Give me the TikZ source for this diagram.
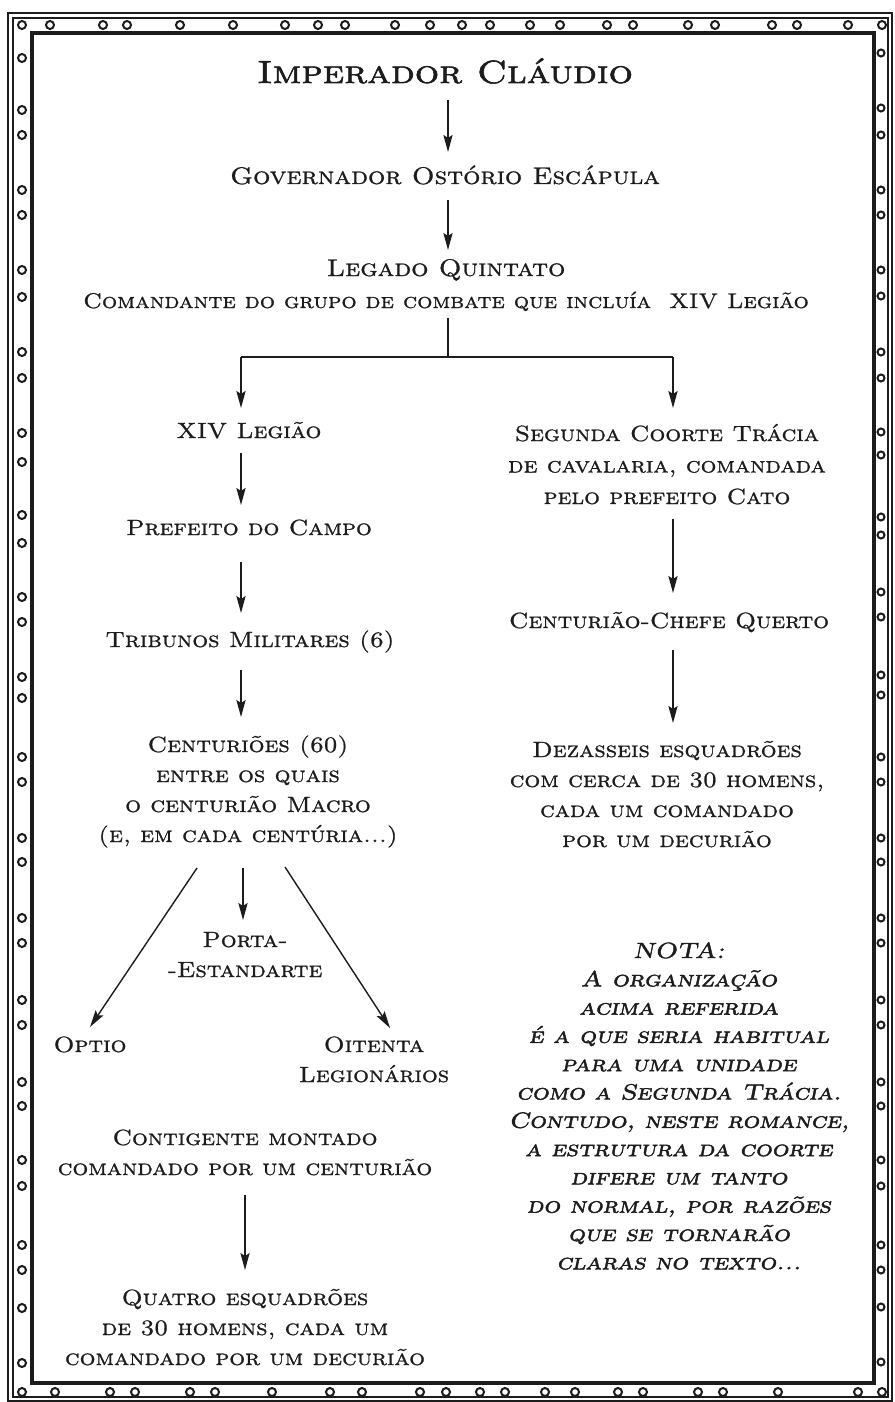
\documentclass[tikz,border=0pt]{standalone}
\usepackage{fontspec}
\usetikzlibrary{arrows.meta,calc}
\newfontfamily\scf{lmromancaps10-regular.otf}[FakeStretch=1.13,FakeBold=1.0]
\newfontface\titlef{lmromancaps10-regular.otf}[FakeStretch=1.2,FakeBold=1.8]
\newfontface\notaf{lmromancaps10-oblique.otf}[FakeStretch=1.19,FakeBold=2.0]
\definecolor{ink}{HTML}{1C1C1C}
\newcommand\ml[1]{\begin{tabular}[t]{@{}c@{}}#1\end{tabular}}
\tikzset{
  lbl/.style={inner sep=0pt, anchor=base, text=ink, font=\scf\fontsize{11}{15}\selectfont},
  big/.style={lbl, font=\scf\fontsize{12}{16}\selectfont},
  ttl/.style={lbl, font=\titlef\fontsize{16}{18}\selectfont},
  nt/.style={lbl, font=\notaf\fontsize{11}{14.15}\selectfont},
  ln/.style={draw=ink, line width=0.7pt},
  arr/.style={ln, -{Stealth[length=8.5pt,width=4.6pt,inset=1.5pt]}},
  ring/.style={draw=ink, line width=1pt},
  frm/.style={draw=ink, line width=1.6pt},
  frmt/.style={draw=ink, line width=0.9pt},
}
\begin{document}
\begin{tikzpicture}[x=0.5pt,y=-0.5pt]
\useasboundingbox (0,0) rectangle (894,1402);
\fill[white] (0,0) rectangle (894,1402);
% frame
\draw[frmt] (8,13) rectangle (892,1401);
\draw[frmt] (13,18) rectangle (888,1397);
\draw[frm] (32,33) rectangle (874,1383);
\foreach \x in {22,50,103,127,180,233,285,318,345,395,430,462,490,530,560,607,633,688,715,772,797,848,882}
  \draw[ring] (\x,25) circle (4);
\foreach \x in {22,55,110,135,190,215,272,330,362,420,446,480,505,545,575,618,643,698,723,778,858,882}
  \draw[ring] (\x,1392) circle (4);
\foreach \y in {58,110,135,190,215,270,297,352,378,433,462,515,543,597,622,677,698,757,782,838,862,918,943,1000,1025,1082,1106,1160,1186,1245,1270,1308,1363}
  \draw[ring] (22,\y) circle (4);
\foreach \y in {53,108,135,190,215,270,296,352,378,432,455,517,535,592,617,675,695,757,782,838,862,918,943,1000,1025,1082,1106,1160,1186,1245,1270,1307,1362}
  \draw[ring] (881,\y) circle (3.5);
% nodes
\node[ttl] (emp) at (445,83) {Imperador Cláudio};
\node[big] (gov) at (445,184) {Governador Ostório Escápula};
\node[big] (leg) at (446,276) {\ml{Legado Quintato\\{\fontsize{10.6}{16}\selectfont Comandante do grupo de combate que incluía\ \ XIV Legião}}};
\node[lbl] (xiv) at (249,438) {XIV Legião};
\node[lbl, font=\scf\fontsize{11}{15.75}\selectfont] (seg) at (667,441) {\ml{Segunda Coorte Trácia\\de cavalaria, comandada\\pelo prefeito Cato}};
\node[lbl] (pref) at (249,535) {Prefeito do Campo};
\node[lbl] (trib) at (250,647) {Tribunos Militares (6)};
\node[lbl] (cent) at (248,752) {\ml{Centuriões (60)\\entre os quais\\o centurião Macro\\(e, em cada centúria...)}};
\node[lbl] (quer) at (669,628) {Centurião-Chefe Querto};
\node[lbl] (dez) at (667,757) {\ml{Dezasseis esquadrões\\com cerca de 30 homens,\\cada um comandado\\por um decurião}};
\node[lbl] (porta) at (245,947) {\ml{Porta-\\-Estandarte}};
\node[lbl] (optio) at (90,1052) {Optio};
\node[lbl] (oit) at (374,1052) {\ml{Oitenta\\Legionários}};
\node[lbl] (cont) at (245,1145) {\ml{Contigente montado\\comandado por um centurião}};
\node[lbl] (quat) at (245,1305) {\ml{Quatro esquadrões\\de 30 homens, cada um\\comandado por um decurião}};
\node[nt] (nota) at (679,958) {\ml{NOTA:\\A organização\\acima referida\\é a que seria habitual\\para uma unidade\\como a Segunda Trácia.\\Contudo, neste romance,\\a estrutura da coorte\\difere um tanto\\do normal, por razões\\que se tornarão\\claras no texto...}};
% connectors
\draw[arr] ($(emp.base)+(3,17)$) -- ($(gov.base)+(3,-32)$);
\draw[arr] ($(gov.base)+(3,16)$) -- ($(leg.base)+(2,-26)$);
\coordinate (jn) at ($(leg.base)+(2,81)$);
\draw[ln] ($(leg.base)+(2,42)$) -- (jn);
\coordinate (jl) at ($(jn -| xiv.base)+(-8,0)$);
\coordinate (jr) at ($(jn -| seg.base)+(6,0)$);
\draw[ln] (jl) -- (jr);
\draw[arr] (jl) -- ($(xiv.base)+(-8,-30)$);
\draw[arr] (jr) -- ($(seg.base)+(6,-33)$);
\draw[arr] ($(xiv.base)+(-8,15)$) -- ($(pref.base)+(-8,-30)$);
\draw[arr] ($(pref.base)+(-8,27)$) -- ($(trib.base)+(-9,-34)$);
\draw[arr] ($(trib.base)+(-9,23)$) -- ($(cent.base)+(-7,-35)$);
\draw[arr] ($(seg.base)+(6,78)$) -- ($(quer.base)+(4,-35)$);
\draw[arr] ($(quer.base)+(4,22)$) -- ($(dez.base)+(6,-34)$);
\draw[arr] ($(cent.base)+(-51,116)$) -- ($(optio.base)+(0,-25)$);
\draw[arr] ($(cent.base)+(-5,116)$) -- ($(porta.base)+(-2,-27)$);
\draw[arr] ($(cent.base)+(37,115)$) -- ($(oit.base)+(16,-24)$);
\draw[arr] ($(cont.base)+(0,50)$) -- ($(quat.base)+(0,-35)$);
\end{tikzpicture}
\end{document}
